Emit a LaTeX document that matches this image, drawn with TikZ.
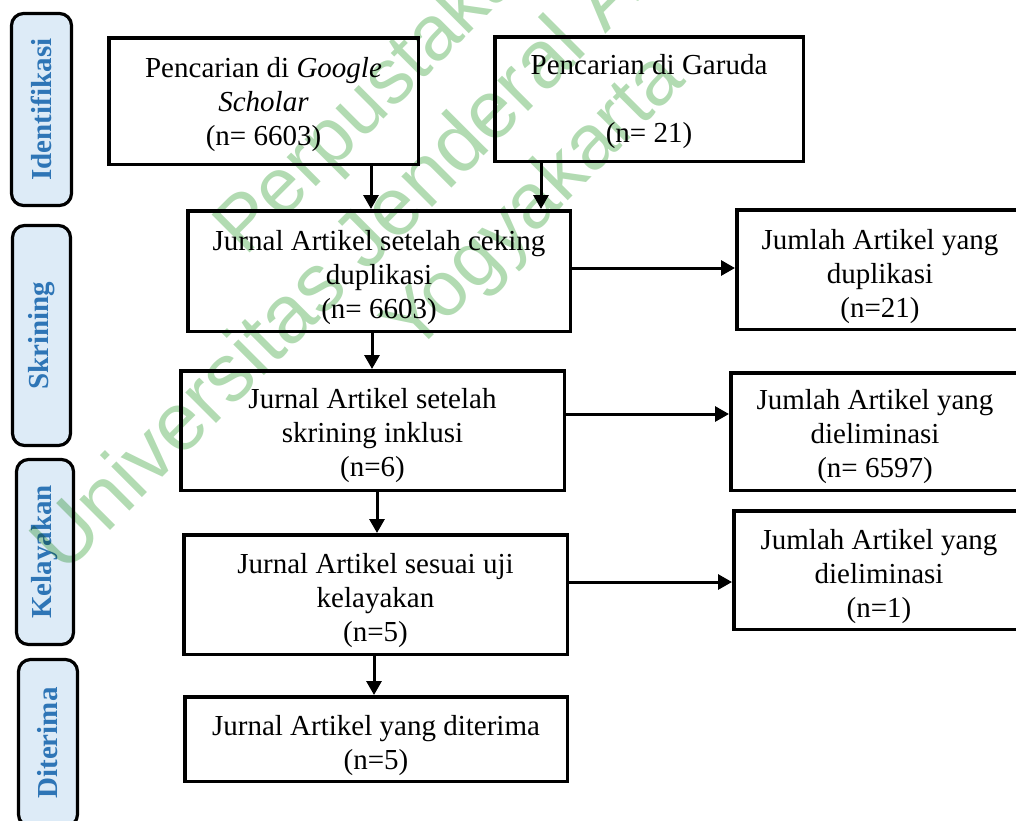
\documentclass[tikz,border=0pt]{standalone}
\usepackage{fontspec}
\setmainfont{Liberation Serif}
\newfontfamily\wmfont{Liberation Sans}
\usetikzlibrary{arrows.meta}
\definecolor{tabfill}{HTML}{DDEBF7}
\definecolor{tabtext}{HTML}{2E75B6}
\definecolor{wm}{RGB}{178,219,178}
\begin{document}
\begin{tikzpicture}[x=1pt,y=-1pt,
  boxframe/.style={draw, line width=3.5pt, inner sep=0pt},
  boxtext/.style={align=center, inner sep=0pt, font=\fontsize{29}{34}\selectfont},
  tab/.style={draw, line width=3.2pt, fill=tabfill, rounded corners=12pt, rotate=90, inner sep=0pt, font=\fontsize{29}{34}\selectfont\bfseries, text=tabtext},
  arr/.style={line width=3pt, -{Triangle[length=14pt,width=15pt]}},
  wmtext/.style={anchor=base west, rotate=45, text=wm, font=\wmfont\fontsize{78}{80}\selectfont, inner sep=0pt}]
\useasboundingbox (0,0) rectangle (1016,820);
\clip (0,0) rectangle (1016,820);

% side tabs
\node[tab, minimum width=192pt, minimum height=60pt] (t1) at (41.5,109.5) {Identifikasi};
\node[tab, minimum width=220pt, minimum height=58pt] (t2) at (41.5,335.5) {Skrining};
\node[tab, minimum width=185pt, minimum height=57pt] (t3) at (45,552) {Kelayakan};
\node[tab, minimum width=167pt, minimum height=59pt] (t4) at (48,743) {Diterima};

% box frames
\node[boxframe, minimum width=309.5pt, minimum height=126.5pt] (gs) at (263.5,101) {};
\node[boxframe, minimum width=308.5pt, minimum height=124.5pt] (gar) at (649,99) {};
\node[boxframe, minimum width=382.5pt, minimum height=120.5pt] (dup) at (379,271) {};
\node[boxframe, minimum width=286.5pt, minimum height=119.5pt] (rdup) at (880,269.5) {};
\node[boxframe, minimum width=383.5pt, minimum height=119.5pt] (ink) at (372.5,430.5) {};
\node[boxframe, minimum width=288.5pt, minimum height=117.5pt] (el1) at (875,431.5) {};
\node[boxframe, minimum width=383.5pt, minimum height=119.5pt] (kel) at (375.5,594.5) {};
\node[boxframe, minimum width=290.5pt, minimum height=118.5pt] (el2) at (879,570) {};
\node[boxframe, minimum width=382.5pt, minimum height=84.5pt] (dit) at (376,739) {};

% box texts
\node[boxtext] (gs-t) at ([yshift=-4pt]gs.center) {Pencarian di \textit{Google}\\ \textit{Scholar}\\ (n= 6603)};
\node[boxtext] (gar-t) at ([yshift=-3pt]gar.center) {Pencarian di Garuda\\[34pt] (n= 21)};
\node[boxtext] (dup-t) at ([yshift=-7pt]dup.center) {Jurnal Artikel setelah ceking\\ duplikasi\\ (n= 6603)};
\node[boxtext] (rdup-t) at ([yshift=-7pt]rdup.center) {Jumlah Artikel yang\\ duplikasi\\ (n=21)};
\node[boxtext] (ink-t) at ([yshift=-5pt]ink.center) {Jurnal Artikel setelah\\ skrining inklusi\\ (n=6)};
\node[boxtext] (el1-t) at ([yshift=-5pt]el1.center) {Jumlah Artikel yang\\ dieliminasi\\ (n= 6597)};
\node[boxtext] (kel-t) at ([yshift=-6pt]kel.center) {Jurnal Artikel sesuai uji\\ kelayakan\\ (n=5)};
\node[boxtext] (el2-t) at ([yshift=-7pt]el2.center) {Jumlah Artikel yang\\ dieliminasi\\ (n=1)};
\node[boxtext] (dit-t) at ([yshift=-7pt]dit.center) {Jurnal Artikel yang diterima\\ (n=5)};

% connector guides
\coordinate (xa) at (371,0);
\coordinate (xb) at (541,0);
\coordinate (xc) at (372,0);
\coordinate (xd) at (377,0);
\coordinate (xe) at (374,0);
\coordinate (ya) at (0,268);
\coordinate (yb) at (0,414);
\coordinate (yc) at (0,582);

% connectors
\draw[arr] (gs.south -| xa) -- (dup.north -| xa);
\draw[arr] (gar.south -| xb) -- (dup.north -| xb);
\draw[arr] (dup.south -| xc) -- (ink.north -| xc);
\draw[arr] (ink.south -| xd) -- (kel.north -| xd);
\draw[arr] (kel.south -| xe) -- (dit.north -| xe);
\draw[arr] (dup.east |- ya) -- (rdup.west |- ya);
\draw[arr] (ink.east |- yb) -- (el1.west |- yb);
\draw[arr] (kel.east |- yc) -- (el2.west |- yc);

% watermark, multiplied over the drawing
\begin{scope}[blend mode=multiply]
\node[wmtext] (wm1) at (245,258) {Perpustakaan};
\node[wmtext, font=\wmfont\fontsize{82}{84}\selectfont] (wm2) at (64,576) {Universitas Jenderal Achmad Yani};
\node[wmtext] (wm3) at (413,356) {Yogyakarta};
\end{scope}
\end{tikzpicture}
\end{document}
